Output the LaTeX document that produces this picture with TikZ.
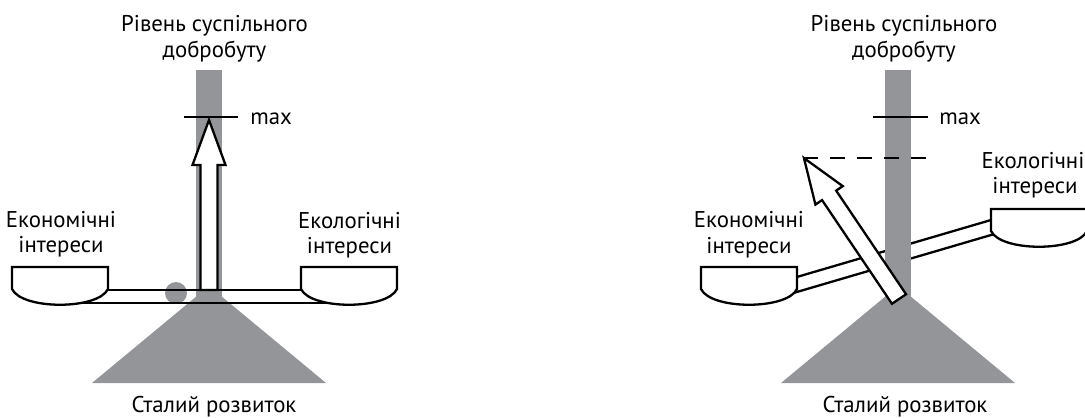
\documentclass[tikz,border=0pt]{standalone}
\usepackage{fontspec}
\setmainfont{PT Sans}
\definecolor{bargrey}{RGB}{147,149,152}
\begin{document}
\begin{tikzpicture}[x=0.5pt,y=-0.5pt,
  lbl/.style={font=\fontsize{11.4}{13}\selectfont, inner sep=0pt, anchor=base},
  ln/.style={line width=1.15pt, black},
  greyfill/.style={fill=bargrey, draw=none},
  panshape/.style={line width=1.15pt, draw=black, fill=white},
  hollowarrow/.style={line width=1.15pt, draw=black, fill=white, line join=miter}
]
\useasboundingbox (0,0) rectangle (1085,417);

% ================= LEFT DIAGRAM =================
\fill[bargrey] (92,383) -- (326,383) -- (209,286) -- cycle;
\fill[bargrey] (196,70) rectangle (222,300);
\fill[bargrey] (176,293) circle (11);
% beam
\coordinate (Lbt1) at (108,290);
\coordinate (Lbt2) at (301,290);
\coordinate (Lbb1) at (60,303);
\coordinate (Lbb2) at (350,303);
\draw[ln] (Lbt1) -- (Lbt2);
\draw[ln] (Lbb1) -- (Lbb2);
% pans
\draw[panshape] (12,267) -- (108,267) -- (108,289) .. controls (98,310) and (22,310) .. (12,289) -- cycle;
\draw[panshape] (301,267) -- (397,267) -- (397,289) .. controls (387,310) and (311,310) .. (301,289) -- cycle;
% max line
\coordinate (Lm1) at (184,117);
\coordinate (Lm2) at (238,117);
\draw[ln] (Lm1) -- (Lm2);
% arrow
\begin{scope}[shift={(209,290)}]
\draw[hollowarrow] (-8.5,0) -- (-8.5,-125) -- (-16.5,-125) -- (0,-170) -- (16.5,-125) -- (8.5,-125) -- (8.5,0) -- cycle;
\end{scope}
% labels
\node[lbl] (Lt1) at (214.5,32) {Рівень суспільного};
\node[lbl] (Lt2) at (214.5,58) {добробуту};
\node[lbl, anchor=base west] (Lmax) at (250,125) {max};
\node[lbl] (Le1) at (61,227) {Економічні};
\node[lbl] (Le2) at (61,252) {інтереси};
\node[lbl] (Lk1) at (349.5,228) {Екологічні};
\node[lbl] (Lk2) at (349.5,253) {інтереси};
\node[lbl] (Ls) at (214,412) {Сталий розвиток};

% ================= RIGHT DIAGRAM =================
\fill[bargrey] (781,383) -- (1015,383) -- (898,286) -- cycle;
% beam (tilted)
\coordinate (Rbt1) at (790,279);
\coordinate (Rbt2) at (1005,215.9);
\coordinate (Rbb1) at (790,294);
\coordinate (Rbb2) at (1005,230.9);
\draw[ln] (Rbt1) -- (Rbt2);
\draw[ln] (Rbb1) -- (Rbb2);
% pans
\draw[panshape] (701,267) -- (797,267) -- (797,289) .. controls (787,310) and (711,310) .. (701,289) -- cycle;
\draw[panshape] (991,209) -- (1087,209) -- (1087,231) .. controls (1077,252) and (1001,252) .. (991,231) -- cycle;
% bar
\fill[bargrey] (885,70) rectangle (911,300);
% max line and dashed line
\coordinate (Rm1) at (873,117);
\coordinate (Rm2) at (928,117);
\draw[ln] (Rm1) -- (Rm2);
\coordinate (Rd1) at (803,158);
\coordinate (Rd2) at (927,158);
\draw[ln, dash pattern=on 7.5pt off 6pt] (Rd1) -- (Rd2);
% arrow
\begin{scope}[shift={(899,299)}, rotate=34]
\draw[hollowarrow] (-8.5,0) -- (-8.5,-125) -- (-16.5,-125) -- (0,-170) -- (16.5,-125) -- (8.5,-125) -- (8.5,0) -- cycle;
\end{scope}
% labels
\node[lbl] (Rt1) at (904,32) {Рівень суспільного};
\node[lbl] (Rt2) at (904,58) {добробуту};
\node[lbl, anchor=base west] (Rmax) at (939,125) {max};
\node[lbl] (Re1) at (749,227) {Економічні};
\node[lbl] (Re2) at (749,253) {інтереси};
\node[lbl] (Rk1) at (1033,168) {Екологічні};
\node[lbl] (Rk2) at (1035,193) {інтереси};
\node[lbl] (Rs) at (905,412) {Сталий розвиток};
\end{tikzpicture}
\end{document}
